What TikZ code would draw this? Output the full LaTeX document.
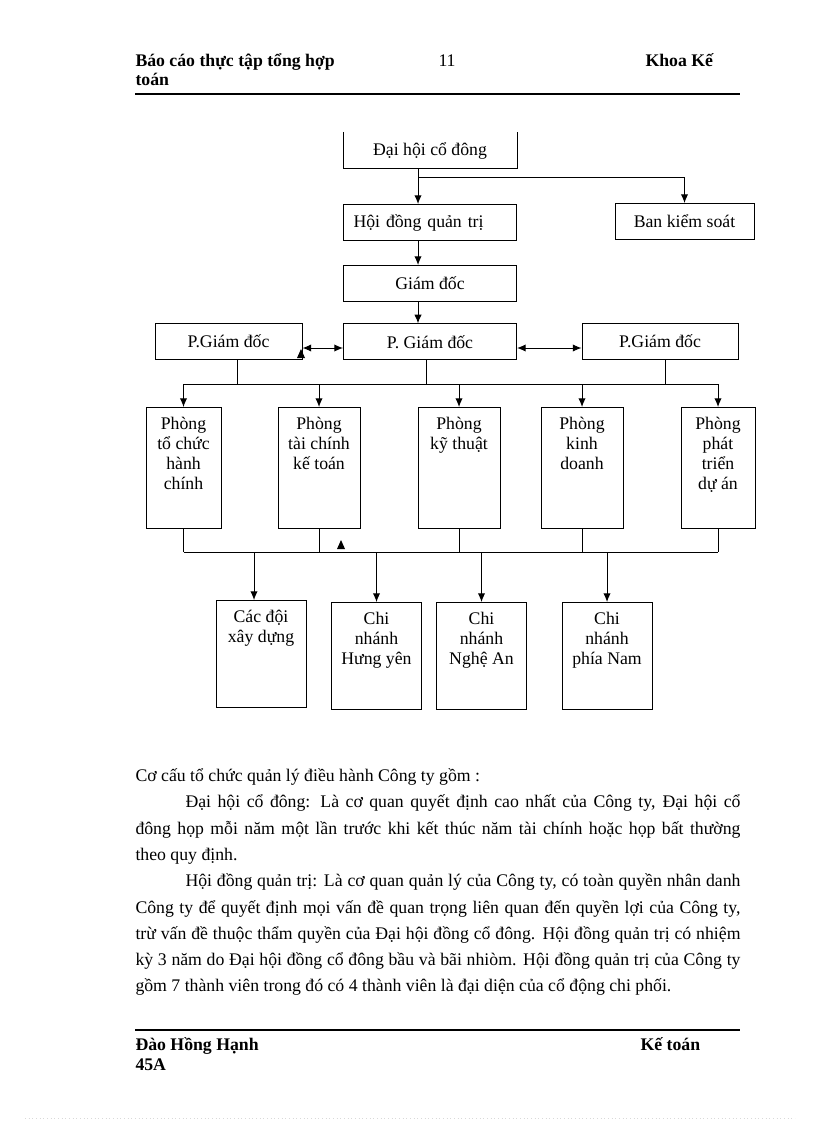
\documentclass[tikz,border=0pt]{standalone}
\usepackage{fontspec}
\setmainfont{Liberation Serif}
\usetikzlibrary{arrows.meta}
\usetikzlibrary{positioning}

\newdimen\px
\px=0.75pt
\newcommand{\spreadline}[2]{\makebox[#1\px][s]{#2}}

\begin{document}
\begin{tikzpicture}[
		x=0.75pt, y=-0.75pt,
		font=\fontsize{13.3pt}{15pt}\selectfont,
		line width=0.75pt,
		block/.style={draw, align=center, minimum height=27pt, minimum width=173\px, inner sep=2pt},
		unitbox/.style={draw, anchor=north, minimum height=121\px, label={[anchor=north, align=center, inner ysep=7pt]north:#1}},
		branchbox/.style={draw, anchor=north, minimum width=90\px, minimum height=107\px, label={[anchor=north, align=center, inner ysep=7pt]north:#1}},
		link/.style={-{Latex[length=6.5pt, width=5.5pt]}},
		twoway/.style={{Latex[length=6.5pt, width=5.5pt]}-{Latex[length=6.5pt, width=5.5pt]}},
		txt/.style={anchor=base west, inner sep=0pt},
		headrule/.style={line width=2pt}
	]
		\useasboundingbox (0,0) rectangle (816,1123);

		\node[txt] (hleft) at (135,67) {\textbf{Báo cáo thực tập tổng hợp}};
		\node[txt] (hleft2) at (135,86) {\textbf{toán}};
		\node[txt] (hpage) at (438,67) {11};
		\node[txt] (hright) at (645,67) {\textbf{Khoa Kế}};
		\draw[headrule] (135,94) -- (740,94);

		\node[block, draw=none] (dh) at (430,150.5) {Đại hội cổ đông};
		\draw (dh.north west) -- (dh.south west) -- (dh.south east) -- (dh.north east);
		\node[block, below=26.25pt of dh, inner xsep=7.5pt, text width=114.75pt, align=left] (hd) {Hội đồng quản trị};
		\node[block, minimum width=139\px] (bks) at (684.5,221.5) {Ban kiểm soát};
		\node[block, below=18pt of hd] (gd) {Giám đốc};
		\node[block, below=16pt of gd] (pgc) {P. Giám đốc};
		\node[block, minimum width=147\px] (pgl) at (228.5,341) {P.Giám đốc};
		\node[block, minimum width=156\px] (pgr) at (660,341) {P.Giám đốc};

		\coordinate (fork) at (418,178);
		\draw (dh.south -| fork) -- (fork);
		\draw[link] (fork) -- (hd.north -| fork);
		\draw[link] (fork) -| (bks.north);
		\draw[link] (hd.south -| fork) -- (gd.north -| fork);
		\draw[link] (gd.south -| fork) -- (pgc.north -| fork);

		\coordinate (lvl) at (0,348);
		\draw[twoway] (pgl.east |- lvl) -- (pgc.west |- lvl);
		\draw[twoway] (pgc.east |- lvl) -- (pgr.west |- lvl);
		\fill (297,358) -- (301,349) -- (305,358) -- cycle;

		\node[unitbox={Phòng\\tổ chức\\hành\\chính}, minimum width=75\px] (d1) at (183.5,407) {};
		\node[unitbox={Phòng\\tài chính\\kế toán}, minimum width=82\px] (d2) at (319,407) {};
		\node[unitbox={Phòng\\kỹ thuật}, minimum width=82\px] (d3) at (459,407) {};
		\node[unitbox={Phòng\\kinh\\doanh}, minimum width=82\px] (d4) at (582,407) {};
		\node[unitbox={Phòng\\phát\\triển\\dự án}, minimum width=74\px] (d5) at (718,407) {};

		\coordinate (ubus) at (0,384);
		\coordinate (ul) at (237,384);
		\coordinate (uc) at (426,384);
		\coordinate (ur) at (665,384);
		\draw (pgl.south -| ul) -- (ul);
		\draw (pgc.south -| uc) -- (uc);
		\draw (pgr.south -| ur) -- (ur);
		\draw (d1.north |- ubus) -- (d5.north |- ubus);
		\foreach \d in {d1,d2,d3,d4,d5}
			\draw[link] (\d.north |- ubus) -- (\d.north);

		\coordinate (lbus) at (0,552);
		\draw (d1.south |- lbus) -- (d5.south |- lbus);
		\foreach \d in {d1,d2,d3,d4,d5}
			\draw (\d.south) -- (\d.south |- lbus);
		\fill (337,549) -- (341,540) -- (345,549) -- cycle;

		\node[branchbox={Các đội\\xây dựng}] (b1) at (261,600) {};
		\node[branchbox={Chi\\nhánh\\Hưng yên}] (b2) at (376.5,602) {};
		\node[branchbox={Chi\\nhánh\\Nghệ An}] (b3) at (481.5,602) {};
		\node[branchbox={Chi\\nhánh\\phía Nam}] (b4) at (607,602) {};
		\draw[link] ([xshift=-5.25pt]b1.north |- lbus) -- ([xshift=-5.25pt]b1.north);
		\foreach \b in {b2,b3,b4}
			\draw[link] (\b.north |- lbus) -- (\b.north);

		\node[txt] (p1) at (135,781) {Cơ cấu tổ chức quản lý điều hành Công ty gồm :};
		\node[txt] (p2) at (185,807) {\spreadline{555}{Đại hội cổ đông: Là cơ quan quyết định cao nhất của Công ty, Đại hội cổ}};
		\node[txt] (p3) at (135,834) {\spreadline{605}{đông họp mỗi năm một lần trước khi kết thúc năm tài chính hoặc họp bất thường}};
		\node[txt] (p4) at (135,860) {theo quy định.};
		\node[txt] (p5) at (185,886) {\spreadline{555}{Hội đồng quản trị: Là cơ quan quản lý của Công ty, có toàn quyền nhân danh}};
		\node[txt] (p6) at (135,913) {\spreadline{605}{Công ty để quyết định mọi vấn đề quan trọng liên quan đến quyền lợi của Công ty,}};
		\node[txt] (p7) at (135,939) {\spreadline{605}{trừ vấn đề thuộc thẩm quyền của Đại hội đồng cổ đông. Hội đồng quản trị có nhiệm}};
		\node[txt] (p8) at (135,965) {\spreadline{605}{kỳ 3 năm do Đại hội đồng cổ đông bầu và bãi nhiòm. Hội đồng quản trị của Công ty}};
		\node[txt] (p9) at (135,991) {gồm 7 thành viên trong đó có 4 thành viên là đại diện của cổ động chi phối.};

		\draw[headrule] (135,1030) -- (740,1030);
		\node[txt] (fleft) at (135,1050) {\textbf{Đào Hồng Hạnh}};
		\node[txt] (fleft2) at (135,1070) {\textbf{45A}};
		\node[txt] (fright) at (640,1050) {\textbf{Kế toán}};
		\draw[gray!30, dotted] (25,1118) -- (795,1118);
	\end{tikzpicture}
\end{document}
